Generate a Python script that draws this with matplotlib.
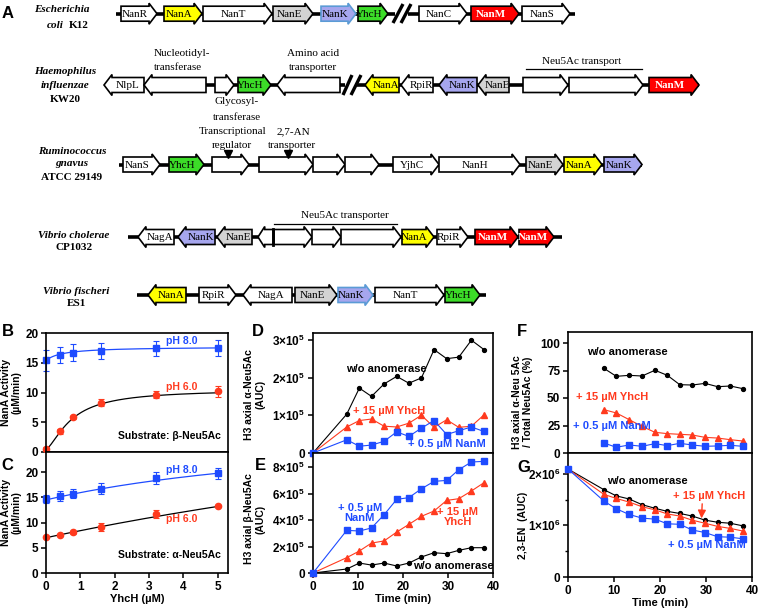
import matplotlib
matplotlib.use('Agg')
import matplotlib.pyplot as plt
import numpy as np
from matplotlib.patches import Polygon
from matplotlib.ticker import MultipleLocator

plt.rcParams['font.family'] = ['Liberation Sans', 'DejaVu Sans']
plt.rcParams['font.weight'] = 'bold'
plt.rcParams['axes.labelweight'] = 'bold'
plt.rcParams['axes.linewidth'] = 1.2
plt.rcParams['mathtext.default'] = 'regular'
for a in ('xtick', 'ytick'):
    plt.rcParams[a + '.major.width'] = 1.1
    plt.rcParams[a + '.major.size'] = 3.5
    plt.rcParams[a + '.labelsize'] = 8.5

SERIF = ['Liberation Serif', 'DejaVu Serif']

# ---------------- Panel A data (gene name, start, end, strand, type) ----------------
ecoli_genes = [("NanR", 121, 157, 1, "w"), ("NanA", 164, 202, 1, "y"), ("NanT", 203, 272, 1, "w"),
               ("NanE", 273, 313, 1, "g"), ("NanK", 321, 356, 1, "kb"), ("YhcH", 358, 388, 1, "h"),
               ("NanC", 419, 467, 1, "w"), ("NanM", 471, 519, 1, "m"), ("NanS", 522, 570, 1, "w")]
hinf_genes = [("NlpL", 104, 144, -1, "w"), ("", 144, 206, -1, "w"), ("", 215, 234, 1, "w"),
              ("YhcH", 238, 271, 1, "h"), ("", 277, 340, -1, "w"), ("NanA", 365, 399, -1, "y"),
              ("RpiR", 401, 433, -1, "w"), ("NanK", 439, 477, -1, "k"), ("NanE", 478, 509, -1, "g"),
              ("", 523, 568, 1, "w"), ("", 569, 643, 1, "w"), ("NanM", 649, 699, 1, "m")]
rgna_genes = [("NanS", 123, 160, 1, "w"), ("YhcH", 169, 204, 1, "h"), ("", 212, 249, 1, "w"),
              ("", 259, 313, 1, "w"), ("", 313, 345, 1, "w"), ("", 345, 379, 1, "w"),
              ("YjhC", 393, 439, 1, "w"), ("NanH", 439, 520, 1, "w"), ("NanE", 526, 563, 1, "g"),
              ("NanA", 564, 602, 1, "y"), ("NanK", 604, 642, 1, "k")]
vcho_genes = [("NagA", 138, 174, -1, "w"), ("NanK", 178, 215, -1, "k"), ("NanE", 217, 252, -1, "g"),
              ("", 258, 273, -1, "w"), ("", 274, 312, 1, "w"), ("", 312, 341, 1, "w"),
              ("", 341, 401, 1, "w"), ("NanA", 402, 434, 1, "y"), ("RpiR", 437, 468, 1, "w"),
              ("NanM", 475, 518, 1, "m"), ("NanM", 519, 554, 1, "m")]
vfis_genes = [("NanA", 148, 186, -1, "y"), ("RpiR", 199, 236, 1, "w"), ("NagA", 243, 292, -1, "w"),
              ("NanE", 295, 337, 1, "g"), ("NanK", 338, 373, 1, "kb"), ("NanT", 375, 444, 1, "w"),
              ("YhcH", 445, 480, 1, "h")]

# ---------------- Panel B/C data ----------------
yhch_conc = [0, 0.4, 0.8, 1.6, 3.2, 5]
b_ph8 = [15.4, 16.3, 16.7, 17.0, 17.4, 17.5]
b_ph8_err = [1.8, 1.4, 1.4, 1.3, 1.2, 1.4]
b_ph6 = [0.5, 3.5, 5.8, 8.3, 9.6, 10.2]
b_ph6_err = [0.3, 0.4, 0.3, 0.6, 0.6, 0.9]
c_ph8 = [14.6, 15.3, 15.7, 16.7, 18.8, 19.8]
c_ph8_err = [0.8, 1.0, 0.9, 1.1, 1.2, 1.1]
c_ph6 = [7.1, 7.5, 8.1, 9.2, 11.7, 13.2]
c_ph6_err = [0.2, 0.2, 0.3, 0.8, 0.7, 0.2]

# ---------------- Panel D-G data ----------------
time_de = [0, 7.5, 10.3, 13.0, 15.8, 18.6, 21.3, 24.1, 26.9, 29.7, 32.4, 35.2, 38.0]
d_wo = [0, 1.03, 1.72, 1.50, 1.83, 2.03, 1.85, 1.99, 2.74, 2.50, 2.54, 2.99, 2.74]
d_yhch = [0, 0.69, 0.86, 0.90, 0.71, 0.69, 0.79, 1.00, 0.68, 0.88, 0.68, 0.71, 1.01]
d_nanm = [0, 0.35, 0.18, 0.21, 0.31, 0.56, 0.44, 0.66, 0.86, 0.49, 0.59, 0.69, 0.57]
e_nanm = [0, 3.22, 3.17, 3.40, 4.40, 5.56, 5.69, 6.36, 6.92, 6.99, 7.80, 8.38, 8.43]
e_yhch = [0, 1.16, 1.66, 2.26, 2.42, 3.09, 3.67, 4.28, 4.68, 5.48, 5.61, 6.19, 6.82]
e_wo = [0, 0.30, 0.75, 0.60, 0.75, 0.53, 0.75, 1.21, 1.53, 1.46, 1.71, 1.91, 1.91]
time_f = [7.8, 10.5, 13.3, 16.1, 18.9, 21.6, 24.3, 27.0, 29.8, 32.5, 35.3, 38.0]
f_wo = [77, 69.7, 70.6, 70, 75.2, 70.6, 62.1, 61.8, 63.3, 60.3, 60.9, 58.5]
f_yhch = [39.4, 36.4, 30.3, 24.2, 18.8, 17.6, 17.0, 16.4, 14.2, 13.6, 12.1, 10.9]
f_nanm = [9.1, 5.2, 7.3, 6.1, 8.5, 6.7, 8.8, 7.3, 6.1, 6.4, 7.0, 6.1]
time_g = [0] + time_f
g_wo = [2.09, 1.69, 1.57, 1.51, 1.40, 1.33, 1.27, 1.23, 1.18, 1.10, 1.06, 1.04, 0.99]
g_yhch = [2.09, 1.60, 1.52, 1.45, 1.36, 1.30, 1.22, 1.18, 1.10, 1.04, 0.98, 0.94, 0.89]
g_nanm = [2.09, 1.47, 1.32, 1.21, 1.14, 1.12, 1.03, 1.02, 0.91, 0.86, 0.78, 0.77, 0.74]

BLUE = '#1E4BFF'
RED = '#FF3A1E'

W, H = 759, 611
fig = plt.figure(figsize=(W / 100, H / 100), dpi=100)


def box(l, r, t, b):
    return [l / W, 1 - b / H, (r - l) / W, (b - t) / H]


axA = fig.add_axes([0, 0, 1, 1])
axA.set_xlim(0, W)
axA.set_ylim(H, 0)
axA.axis('off')
axA.set_zorder(0)

FILL = {"w": "white", "y": "#FFFF00", "g": "#D3D3D3", "k": "#A6A6EE", "kb": "#A6A6EE",
        "h": "#3CDC28", "m": "#FF0000"}


def draw_gene(name, x0, x1, strand, kind, yc):
    h, hh = 15, 21
    hl = min(8, (x1 - x0) * 0.45)
    if strand > 0:
        pts = [(x0, yc - h / 2), (x1 - hl, yc - h / 2), (x1 - hl, yc - hh / 2), (x1, yc),
               (x1 - hl, yc + hh / 2), (x1 - hl, yc + h / 2), (x0, yc + h / 2)]
        cx = (x0 + x1 - hl) / 2
    else:
        pts = [(x1, yc - h / 2), (x0 + hl, yc - h / 2), (x0 + hl, yc - hh / 2), (x0, yc),
               (x0 + hl, yc + hh / 2), (x0 + hl, yc + h / 2), (x1, yc + h / 2)]
        cx = (x0 + hl + x1) / 2
    ec = '#5B9BD5' if kind == 'kb' else 'black'
    axA.add_patch(Polygon(pts, closed=True, facecolor=FILL[kind], edgecolor=ec, lw=1.2,
                          joinstyle='miter', zorder=3))
    if name:
        if kind == 'm':
            axA.text(cx, yc + 0.5, name, ha='center', va='center', fontsize=8, color='white',
                     family=SERIF, weight='bold', zorder=4)
        else:
            axA.text(cx, yc + 0.5, name, ha='center', va='center', fontsize=8, color='black',
                     family=SERIF, weight='normal', zorder=4)


rows = [(ecoli_genes, 13.7, [(116, 395), (408, 575)]),
        (hinf_genes, 85, [(144, 345), (357, 699)]),
        (rgna_genes, 164.5, [(119, 642)]),
        (vcho_genes, 237, [(128, 562)]),
        (vfis_genes, 295, [(137, 486)])]
for genes, yc, segs in rows:
    for s0, s1 in segs:
        axA.plot([s0, s1], [yc, yc], color='black', lw=2.6, solid_capstyle='butt', zorder=2)
    for g in genes:
        draw_gene(*g, yc)

# break marks
for (xa, ya, xb, yb) in [(393, 23, 403, 4), (401, 23, 411, 4), (343, 95, 352, 75), (351, 95, 361, 75)]:
    axA.plot([xa, xb], [ya, yb], color='black', lw=2.4, solid_capstyle='butt', zorder=2)

# V. cholerae vertical bar
axA.plot([273, 273], [229, 245], color='black', lw=2.0, zorder=5)

# bracket lines
axA.plot([526, 642], [69, 69], color='black', lw=0.9)
axA.plot([274, 397], [224, 224], color='black', lw=0.9)

st = dict(family=SERIF, weight='normal', fontsize=8, ha='center', va='center')
axA.text(582, 61, "Neu5Ac transport", **st)
axA.text(345, 216, "Neu5Ac transporter", **st)
axA.text(182, 53, "Nucleotidyl-", **st)
axA.text(178, 67, "transferase", **st)
axA.text(313, 53, "Amino acid", **st)
axA.text(313, 67, "transporter", **st)
axA.text(237, 101, "Glycosyl-", **st)
axA.text(237, 117, "transferase", **st)
axA.text(233, 132, "Transcriptional", **st)
axA.text(232, 145, "regulator", **st)
axA.text(293, 132, "2,7-AN", **st)
axA.text(292, 145, "transporter", **st)
axA.plot([228, 288], [154, 154], linestyle='none', marker='v', color='black', ms=6, zorder=5)

sp = dict(family=SERIF, fontsize=8, ha='center', va='center', weight='bold')
axA.text(62, 10, "Escherichia", style='italic', **sp)
axA.text(47, 25, "coli", style='italic', family=SERIF, fontsize=8, ha='left', va='center', weight='bold')
axA.text(69, 25, "K12", family=SERIF, fontsize=8, ha='left', va='center', weight='bold')
axA.text(65, 72, "Haemophilus", style='italic', **sp)
axA.text(65, 85, "influenzae", style='italic', **sp)
axA.text(65, 99, "KW20", **sp)
axA.text(72, 151, "Ruminococcus", style='italic', **sp)
axA.text(72, 164, "gnavus", style='italic', **sp)
axA.text(72, 178, "ATCC 29149", **sp)
axA.text(74, 235, "Vibrio cholerae", style='italic', **sp)
axA.text(74, 248, "CP1032", **sp)
axA.text(76, 291, "Vibrio fischeri", style='italic', **sp)
axA.text(76, 304, "ES1", **sp)

pl = dict(fontsize=12, weight='bold', ha='left', va='center')
axA.text(2, 13, "A", **pl)
axA.text(2, 331, "B", **pl)
axA.text(1, 466, "C", **pl)
axA.text(252, 331, "D", **pl)
axA.text(255, 466, "E", **pl)
axA.text(517, 331, "F", **pl)
axA.text(517, 468, "G", **pl)


def style(ax):
    for s in ax.spines.values():
        s.set_linewidth(1.2)
    ax.tick_params(direction='out', width=1.1, length=3.5, labelsize=8.5, pad=2)
    for lab in ax.get_xticklabels() + ax.get_yticklabels():
        lab.set_fontweight('bold')


ANN = 8

# ---------------- Panel B ----------------
xfit = np.linspace(0, 5, 200)
axB = fig.add_axes(box(46, 228, 333, 452))
axB.plot(xfit, 15.4 + 2.3 * xfit / (0.5 + xfit), color=BLUE, lw=0.9)
axB.plot(xfit, 0.5 + 10.0 * xfit ** 1.5 / (0.75 ** 1.5 + xfit ** 1.5), color='black', lw=0.9)
axB.errorbar(yhch_conc, b_ph8, yerr=b_ph8_err, fmt='s', color=BLUE, ms=5, capsize=2.5,
             elinewidth=0.8, capthick=0.8, clip_on=False)
axB.errorbar(yhch_conc, b_ph6, yerr=b_ph6_err, fmt='o', color=RED, ms=4.5, capsize=2.5,
             elinewidth=0.8, capthick=0.8, clip_on=False)
axB.set_xlim(0, 5.3)
axB.set_ylim(0, 20)
axB.set_yticks([0, 5, 10, 15, 20])
axB.tick_params(bottom=False, labelbottom=False)
axB.text(3.95, 18.6, "pH 8.0", color=BLUE, fontsize=7.5, weight='bold', ha='center', va='center')
axB.text(3.95, 10.9, "pH 6.0", color=RED, fontsize=7.5, weight='bold', ha='center', va='center')
axB.text(5.1, 2.7, "Substrate: β-Neu5Ac", fontsize=7.5, weight='bold', ha='right', va='center')
axB.set_ylabel("NanA Activity\n(µM/min)", fontsize=7.5, linespacing=1.1)
axB.yaxis.set_label_coords(-0.135, 0.5)
style(axB)

# ---------------- Panel C ----------------
axC = fig.add_axes(box(46, 228, 452, 573))
axC.plot(xfit, 14.5 + 15.7 * xfit / (9.85 + xfit), color=BLUE, lw=0.9)
axC.plot(xfit, 7.0 + 42.9 * xfit / (29.6 + xfit), color='black', lw=0.9)
axC.errorbar(yhch_conc, c_ph8, yerr=c_ph8_err, fmt='s', color=BLUE, ms=5, capsize=2.5,
             elinewidth=0.8, capthick=0.8, clip_on=False)
axC.errorbar(yhch_conc, c_ph6, yerr=c_ph6_err, fmt='o', color=RED, ms=4.5, capsize=2.5,
             elinewidth=0.8, capthick=0.8, clip_on=False)
axC.set_xlim(0, 5.3)
axC.set_ylim(0, 24)
axC.set_yticks([0, 5, 10, 15, 20])
axC.set_xticks([0, 1, 2, 3, 4, 5])
axC.text(3.95, 20.5, "pH 8.0", color=BLUE, fontsize=7.5, weight='bold', ha='center', va='center')
axC.text(3.95, 10.7, "pH 6.0", color=RED, fontsize=7.5, weight='bold', ha='center', va='center')
axC.text(5.1, 3.6, "Substrate: α-Neu5Ac", fontsize=7.5, weight='bold', ha='right', va='center')
axC.set_ylabel("NanA Activity\n(µM/min)", fontsize=7.5, linespacing=1.1)
axC.yaxis.set_label_coords(-0.135, 0.5)
axC.set_xlabel("YhcH (µM)", fontsize=8, labelpad=1)
style(axC)


def series(ax, t, y, scale, color, marker, ms):
    ax.plot(t, np.array(y) * scale, color=color, lw=0.8, marker=marker, ms=ms, clip_on=False, zorder=3)


# ---------------- Panel D ----------------
axD = fig.add_axes(box(313, 493, 333, 453))
series(axD, time_de, d_wo, 1e5, 'black', 'o', 2.8)
series(axD, time_de, d_yhch, 1e5, RED, '^', 4)
series(axD, time_de, d_nanm, 1e5, BLUE, 's', 4.5)
axD.set_xlim(0, 40)
axD.set_ylim(0, 3.18e5)
axD.set_yticks([0, 1e5, 2e5, 3e5])
axD.set_yticklabels(["0", "1×10$^{5}$", "2×10$^{5}$", "3×10$^{5}$"])
axD.tick_params(bottom=False, labelbottom=False)
axD.text(16.4, 2.23e5, "w/o anomerase", fontsize=ANN, weight='bold', ha='center', va='center')
axD.text(16.9, 1.11e5, "+ 15 µM YhcH", color=RED, fontsize=ANN, weight='bold', ha='center', va='center')
axD.text(29.8, 0.24e5, "+ 0.5 µM NanM", color=BLUE, fontsize=ANN, weight='bold', ha='center', va='center')
axD.set_ylabel("H3 axial α-Neu5Ac\n(AUC)", fontsize=7.5, linespacing=1.1)
axD.yaxis.set_label_coords(-0.265, 0.49)
style(axD)

# ---------------- Panel E ----------------
axE = fig.add_axes(box(313, 493, 453, 573))
series(axE, time_de, e_wo, 1e5, 'black', 'o', 2.8)
series(axE, time_de, e_yhch, 1e5, RED, '^', 4)
series(axE, time_de, e_nanm, 1e5, BLUE, 's', 4.5)
axE.set_xlim(0, 40)
axE.set_ylim(0, 9.06e5)
axE.set_yticks([0, 2e5, 4e5, 6e5, 8e5])
axE.set_yticklabels(["0", "2×10$^{5}$", "4×10$^{5}$", "6×10$^{5}$", "8×10$^{5}$"])
axE.set_xticks([0, 10, 20, 30, 40])
axE.text(10.4, 4.5e5, "+ 0.5 µM\nNanM", color=BLUE, fontsize=ANN, weight='bold', ha='center', va='center', linespacing=1.0)
axE.text(32.2, 4.2e5, "+ 15 µM\nYhcH", color=RED, fontsize=ANN, weight='bold', ha='center', va='center', linespacing=1.0)
axE.text(31.1, 0.5e5, "w/o anomerase", fontsize=ANN, weight='bold', ha='center', va='center')
axE.set_ylabel("H3 axial β-Neu5Ac\n(AUC)", fontsize=7.5, linespacing=1.1)
axE.yaxis.set_label_coords(-0.265, 0.45)
axE.set_xlabel("Time (min)", fontsize=8, labelpad=1)
style(axE)

# ---------------- Panel F ----------------
axF = fig.add_axes(box(568, 752, 332, 453))
series(axF, time_f, f_wo, 1, 'black', 'o', 2.8)
series(axF, time_f, f_yhch, 1, RED, '^', 4)
series(axF, time_f, f_nanm, 1, BLUE, 's', 4.5)
axF.set_xlim(0, 40)
axF.set_ylim(0, 110)
axF.set_yticks([0, 25, 50, 75, 100])
axF.tick_params(bottom=False, labelbottom=False)
axF.text(12.9, 91.5, "w/o anomerase", fontsize=ANN, weight='bold', ha='center', va='center')
axF.text(9.6, 51, "+ 15 µM YhcH", color=RED, fontsize=ANN, weight='bold', ha='center', va='center')
axF.text(9.6, 24.8, "+ 0.5 µM NanM", color=BLUE, fontsize=ANN, weight='bold', ha='center', va='center')
axF.set_ylabel("H3 axial α-Neu 5Ac\n/ Total Neu5Ac (%)", fontsize=7.5, linespacing=1.1)
axF.yaxis.set_label_coords(-0.19, 0.42)
style(axF)

# ---------------- Panel G ----------------
axG = fig.add_axes(box(568, 752, 453, 577))
series(axG, time_g, g_wo, 1e6, 'black', 'o', 2.8)
series(axG, time_g, g_yhch, 1e6, RED, '^', 4)
series(axG, time_g, g_nanm, 1e6, BLUE, 's', 4.5)
axG.set_xlim(0, 40)
axG.set_ylim(0, 2.4e6)
axG.set_yticks([0, 1e6, 2e6])
axG.set_yticklabels(["0", "1×10$^{6}$", "2×10$^{6}$"])
axG.yaxis.set_minor_locator(MultipleLocator(0.5e6))
axG.tick_params(which='minor', axis='y', length=2.5, width=1.0)
axG.set_xticks([0, 10, 20, 30, 40])
axG.text(17.3, 1.85e6, "w/o anomerase", fontsize=ANN, weight='bold', ha='center', va='center')
axG.text(30.6, 1.57e6, "+ 15 µM YhcH", color=RED, fontsize=ANN, weight='bold', ha='center', va='center')
axG.text(30.2, 0.62e6, "+ 0.5 µM NanM", color=BLUE, fontsize=ANN, weight='bold', ha='center', va='center')
axG.annotate("", xy=(29.0, 1.08e6), xytext=(29.2, 1.47e6),
             arrowprops=dict(arrowstyle='-|>', color=RED, lw=1.0, mutation_scale=12))
axG.set_ylabel("2,3-EN  (AUC)", fontsize=7.5)
axG.yaxis.set_label_coords(-0.22, 0.42)
axG.set_xlabel("Time (min)", fontsize=8, labelpad=1)
style(axG)

fig.savefig("out.png", dpi=100)
